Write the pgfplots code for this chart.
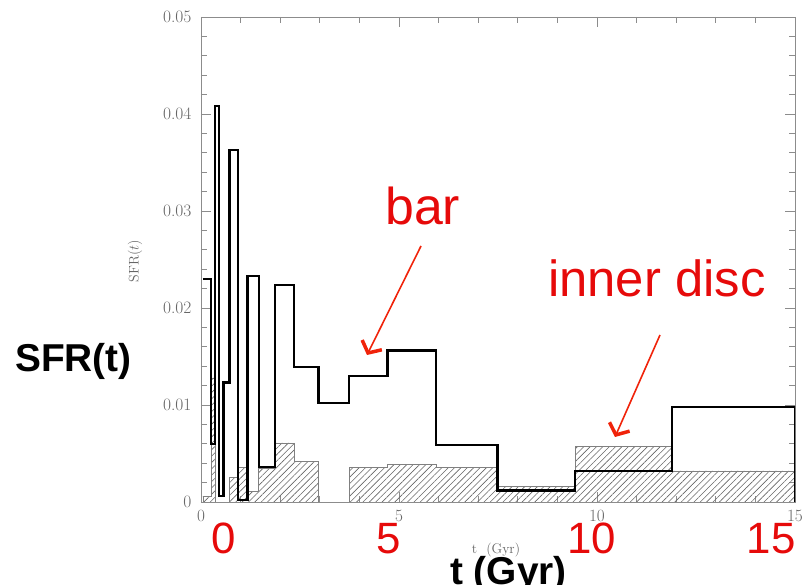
\documentclass[border=0pt]{standalone}
\usepackage{fontspec}
\usepackage{pgfplots}
\pgfplotsset{compat=1.18}
\usetikzlibrary{patterns.meta,arrows.meta}
\newfontfamily\arial{Liberation Sans}
\definecolor{annred}{RGB}{230,10,10}
\definecolor{arrred}{RGB}{240,35,10}
\begin{document}
\begin{tikzpicture}
\useasboundingbox (-201bp,-83bp) rectangle (604bp,502bp);
\begin{axis}[
  at={(0,0)}, anchor=south west,
  scale only axis, width=594bp, height=485bp,
  xmin=0, xmax=15, ymin=0, ymax=0.05,
  scaled y ticks=false, scaled x ticks=false,
  xtick={0,5,10,15}, minor x tick num=4,
  ytick={0,0.01,0.02,0.03,0.04,0.05},
  yticklabels={0,0.01,0.02,0.03,0.04,0.05},
  minor y tick num=4,
  axis line style={black!45, line width=0.8bp},
  major tick length=10bp, minor tick length=6bp,
  every tick/.style={black!45, line width=0.7bp},
  tick label style={font=\fontsize{17.5}{17.5}\selectfont, text=black!60},
  yticklabel style={xshift=-6bp},
  xticklabel style={yshift=-5bp},
]
\addplot[const plot, draw=black!50, line width=0.6bp,
  pattern={Lines[angle=45,distance=4.5bp,line width=0.6bp]}, pattern color=black!60]
  coordinates {(0.05,0.0006) (0.26,0.0128) (0.35,0) (0.72,0.0025) (0.93,0.0036)
  (1.17,0.0011) (1.45,0.0035) (1.87,0.0061) (2.36,0.0042) (2.97,0) (3.74,0.0036)
  (4.71,0.0039) (5.95,0.0036) (7.49,0.0016) (9.45,0.0057) (11.9,0.0032) (15,0.0032)}
  \closedcycle;
\addplot[const plot, black, line width=2.4bp, line join=miter]
  coordinates {(0.05,0.0230) (0.26,0.0060) (0.36,0.0408) (0.46,0.0006) (0.57,0.0123)
  (0.72,0.0363) (0.93,0.0002) (1.17,0.0233) (1.47,0.0036) (1.87,0.0224) (2.35,0.0139)
  (2.97,0.0102) (3.74,0.0130) (4.71,0.0156) (5.93,0.0059) (7.49,0.0012) (9.45,0.0032)
  (11.9,0.0098) (15,0.0098) (15,0)};
\end{axis}
% small original labels
\node[rotate=90, text=black!60, font=\fontsize{14}{14}\selectfont, inner sep=0] at (-66bp,241bp) {SFR$(t)$};
\node[text=black!60, font=\fontsize{14}{14}\selectfont, inner sep=0] at (295bp,-48bp) {t \ (Gyr)};
% big labels
\node[anchor=base west, inner sep=0, font=\arial\bfseries\fontsize{39}{39}\selectfont] at (-186bp,130bp) {SFR(t)};
\node[anchor=base west, inner sep=0, font=\arial\bfseries\fontsize{39}{39}\selectfont] at (249bp,-82bp) {t (Gyr)};
% red numbers
\foreach \xx/\lab in {23/0,188/5,391/10,570/15}
  \node[anchor=base, inner sep=0, text=annred, font=\arial\fontsize{44}{44}\selectfont] at (\xx bp,-51bp) {\lab};
% annotations
\node[anchor=base west, inner sep=0, text=annred, font=\arial\fontsize{52}{52}\selectfont] at (184bp,277bp) {bar};
\node[anchor=base west, inner sep=0, text=annred, font=\arial\fontsize{51}{51}\selectfont] at (347bp,205bp) {inner disc};
\draw[arrred, line width=1.6bp, -{Straight Barb[length=9bp,width=22bp,line width=3.5bp]}] (220bp,256bp) -- (166bp,147bp);
\draw[arrred, line width=1.6bp, -{Straight Barb[length=9bp,width=22bp,line width=3.5bp]}] (459bp,167bp) -- (414bp,65bp);
\end{tikzpicture}
\end{document}
